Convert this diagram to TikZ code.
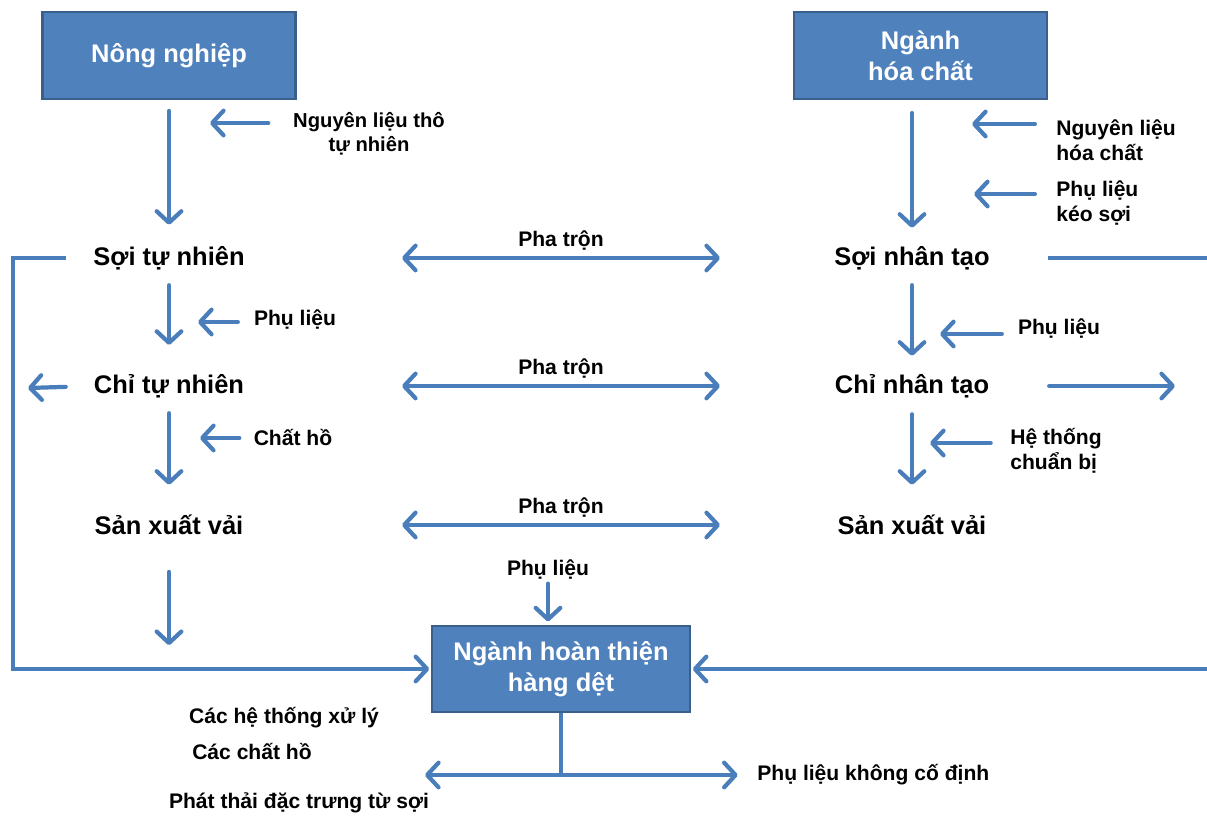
\documentclass[tikz,border=0pt]{standalone}
\usepackage{fontspec}
\setmainfont{Liberation Sans}
\usetikzlibrary{arrows.meta,positioning}

\definecolor{boxblue}{HTML}{4F81BD}
\definecolor{boxline}{HTML}{3A5F8B}
\definecolor{flowblue}{HTML}{4A7EBB}

\tikzstyle{box}=[draw=boxline,line width=1.2pt,fill=boxblue,text=white,align=center,font=\fontsize{14.5}{17.5}\selectfont\bfseries,minimum width=5.06cm,minimum height=1.74cm]
\tikzstyle{stage}=[font=\fontsize{14.5}{17}\selectfont\bfseries,inner sep=0pt,minimum height=17pt]
\tikzstyle{feed}=[font=\fontsize{12}{14}\selectfont\bfseries,inner sep=0pt]
\tikzstyle{pipe}=[draw=flowblue,line width=2.4pt]
\tikzstyle{flow}=[pipe,line cap=round,->]
\tikzstyle{mix}=[pipe,line cap=round,<->]

\begin{document}
\begin{tikzpicture}[x=0.02cm, y=-0.02cm, >={Straight Barb[length=6.5pt,width=14pt,round]}]
    \useasboundingbox (0,0) rectangle (1207,815);
    \clip (0,0) rectangle (1207,815);
    % First the three blue boxes
    \node[box] (nong) at (169,55.5) {Nông nghiệp};
    \node[box] (chem) at (920.5,55.5) {Ngành\\hóa chất};
    \node[box, minimum width=5.16cm, minimum height=1.72cm] (fin) at (561,669) {Ngành hoàn thiện\\hàng dệt};
    % Then the stages of both columns
    \foreach \pos/\name/\txt in {{(169,258)/soiTN/Sợi tự nhiên}, {(169,386)/chiTN/Chỉ tự nhiên}, {(169,525)/sxTN/Sản xuất vải},
                                 {(912,258)/soiNT/Sợi nhân tạo}, {(912,386)/chiNT/Chỉ nhân tạo}, {(912,525)/sxNT/Sản xuất vải}}
        \node[stage] (\name) at \pos {\txt};
    % Side inputs
    \node[feed, align=center, font=\fontsize{11.5}{13.5}\selectfont\bfseries] (nlt) at (369,134) {Nguyên liệu thô\\tự nhiên};
    \node[feed] (pl1) at (295,320) {Phụ liệu};
    \node[feed] (ch) at (293,437) {Chất hồ};
    \node[feed, align=left, anchor=west] (nlh) at (1056,140) {Nguyên liệu\\hóa chất};
    \node[feed, align=left, anchor=west] (pks) at (1056,203) {Phụ liệu\\kéo sợi};
    \node[feed] (pl2) at (1059,329) {Phụ liệu};
    \node[feed, align=left, anchor=west] (htc) at (1010,451) {Hệ thống\\chuẩn bị};
    \node[feed] (pl3) at (548,570) {Phụ liệu};
    % Outputs under the finishing box
    \node[feed] (xuly) at (284,718) {Các hệ thống xử lý};
    \node[feed] (cho) at (252,751) {Các chất hồ};
    \node[feed] (emis) at (299,803) {Phát thải đặc trưng từ sợi};
    \node[feed, anchor=west] (pkcd) at (757,775) {Phụ liệu không cố định};

    % Free ends of some arrows
    \coordinate (t1) at (210,123);
    \coordinate (t2) at (198,322);
    \coordinate (t3) at (200,438);
    \coordinate (t4) at (972,124);
    \coordinate (t5) at (974,194);
    \coordinate (t6) at (940,334);
    \coordinate (t7) at (930,443);
    \coordinate (mixL) at (402,0);
    \coordinate (mixR) at (720,0);
    \coordinate (cL) at (13,669);
    \coordinate (cR) at (1230,669);
    \coordinate (outL) at (28,388);
    \coordinate (outR) at (1175,386);
    \coordinate (wL) at (425,775);

    % Down the columns
    \foreach \from/\to/\s/\e in {nong/soiTN/6.2pt/10.2pt, soiTN/chiTN/6.8pt/14.7pt, chiTN/sxTN/6.8pt/14.2pt,
                                 soiNT/chiNT/6.8pt/8.5pt, chiNT/sxNT/7.4pt/14.2pt}
        \draw[flow, shorten <=\s, shorten >=\e] (\from.south) -- (\to.north);
    \draw[flow, shorten <=7.4pt, shorten >=8.5pt] (soiNT |- chem.south) -- (soiNT.north);
    \draw[flow, shorten <=18pt, shorten >=13.6pt] (sxTN.south) -- (sxTN.south |- fin.west);
    % Inputs pointing at the columns
    \foreach \name/\tip/\gap in {nlt/t1/14pt, pl1/t2/9pt, ch/t3/8pt, nlh/t4/12pt, pks/t5/12pt, pl2/t6/9pt, htc/t7/11pt}
        \draw[flow, shorten <=\gap] (\name.west |- \tip) -- (\tip);
    % Blending between the columns
    \foreach \a/\b in {soiTN/soiNT, chiTN/chiNT, sxTN/sxNT}
        \draw[mix] (\a -| mixL) -- node[feed, above=3pt] {Pha trộn} (\b -| mixR);
    % Fibres to the finishing box
    \draw[flow, line cap=butt, shorten <=15.5pt, shorten >=1pt] (soiTN.west) -| (cL) -- (fin.west);
    \draw[flow, line cap=butt, shorten <=33pt, shorten >=1pt] (soiNT.east) -| (cR) -- (fin.east);
    \draw[flow, shorten <=15.9pt] (chiTN.west) -- (outL);
    \draw[flow, shorten <=34pt] (chiNT.east) -- (outR);
    \draw[flow, shorten <=2pt, shorten >=2pt] (pl3.south) -- (pl3.south |- fin.north);
    % Out of the finishing box
    \draw[pipe] (fin.south) -- (fin.south |- wL);
    \draw[flow] (fin.south |- wL) -- (wL);
    \draw[flow, shorten >=11pt] (fin.south |- wL) -- (pkcd.west);
\end{tikzpicture}
\end{document}
